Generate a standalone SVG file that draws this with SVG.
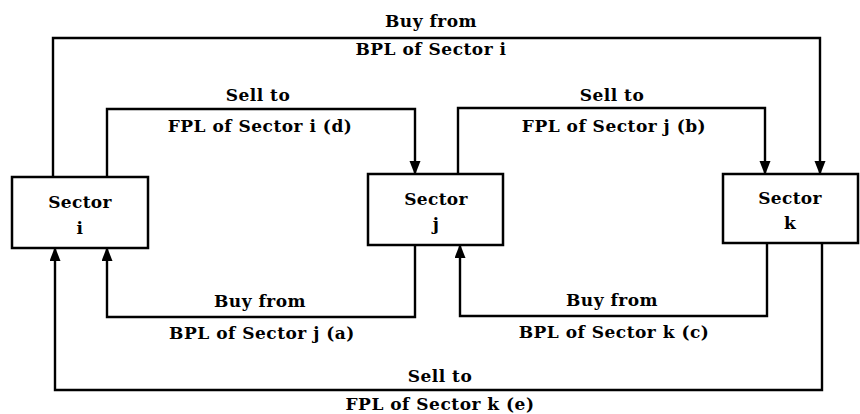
<svg xmlns="http://www.w3.org/2000/svg" width="860" height="414" viewBox="0 0 860 414">
  <style>
    .box { fill: #ffffff; stroke: #000000; stroke-width: 2.5; }
    .wire { fill: none; stroke: #000000; stroke-width: 2.4; }
    text { font-family: "DejaVu Serif", "Liberation Serif", serif; font-weight: bold; font-size: 17px; letter-spacing: 0.5px; fill: #000000; text-anchor: middle; }
    .node-label { letter-spacing: 0.3px; }
  </style>
  <defs>
    <marker id="arrow" markerUnits="userSpaceOnUse" markerWidth="14" markerHeight="12" refX="13" refY="5.5" orient="auto">
      <path d="M0,0 L14,5.5 L0,11 Z" fill="#000000"/>
    </marker>
  </defs>

  <rect width="860" height="414" fill="#ffffff"/>

  <g id="connectors">
    <!-- i -> k : Buy from BPL of Sector i -->
    <path class="wire" d="M53,177 V38 H820 V174" marker-end="url(#arrow)"/>
    <!-- i -> j : Sell to FPL of Sector i (d) -->
    <path class="wire" d="M107,177 V109 H415 V174" marker-end="url(#arrow)"/>
    <!-- j -> k : Sell to FPL of Sector j (b) -->
    <path class="wire" d="M458,174 V108 H765 V174" marker-end="url(#arrow)"/>
    <!-- j -> i : Buy from BPL of Sector j (a) -->
    <path class="wire" d="M415,245 V317 H107 V248" marker-end="url(#arrow)"/>
    <!-- k -> j : Buy from BPL of Sector k (c) -->
    <path class="wire" d="M767,243 V316 H460 V245" marker-end="url(#arrow)"/>
    <!-- k -> i : Sell to FPL of Sector k (e) -->
    <path class="wire" d="M822,243 V390 H55 V248" marker-end="url(#arrow)"/>

    <text x="431" y="27">Buy from</text>
    <text x="431" y="55">BPL of Sector i</text>
    <text x="258" y="101">Sell to</text>
    <text x="260" y="132">FPL of Sector i (d)</text>
    <text x="612" y="101">Sell to</text>
    <text x="614" y="132">FPL of Sector j (b)</text>
    <text x="260" y="307">Buy from</text>
    <text x="262" y="339">BPL of Sector j (a)</text>
    <text x="612" y="306">Buy from</text>
    <text x="614" y="338">BPL of Sector k (c)</text>
    <text x="440" y="382">Sell to</text>
    <text x="440" y="410">FPL of Sector k (e)</text>
  </g>

  <g id="sector-i">
    <rect class="box" x="12" y="177" width="136" height="71"/>
    <text class="node-label" x="80" y="208">Sector</text>
    <text class="node-label" x="80" y="234">i</text>
  </g>
  <g id="sector-j">
    <rect class="box" x="368" y="174" width="135" height="71"/>
    <text class="node-label" x="436" y="205">Sector</text>
    <text class="node-label" x="436" y="230">j</text>
  </g>
  <g id="sector-k">
    <rect class="box" x="723" y="174" width="135" height="69"/>
    <text class="node-label" x="790" y="204">Sector</text>
    <text class="node-label" x="790" y="229">k</text>
  </g>
</svg>
